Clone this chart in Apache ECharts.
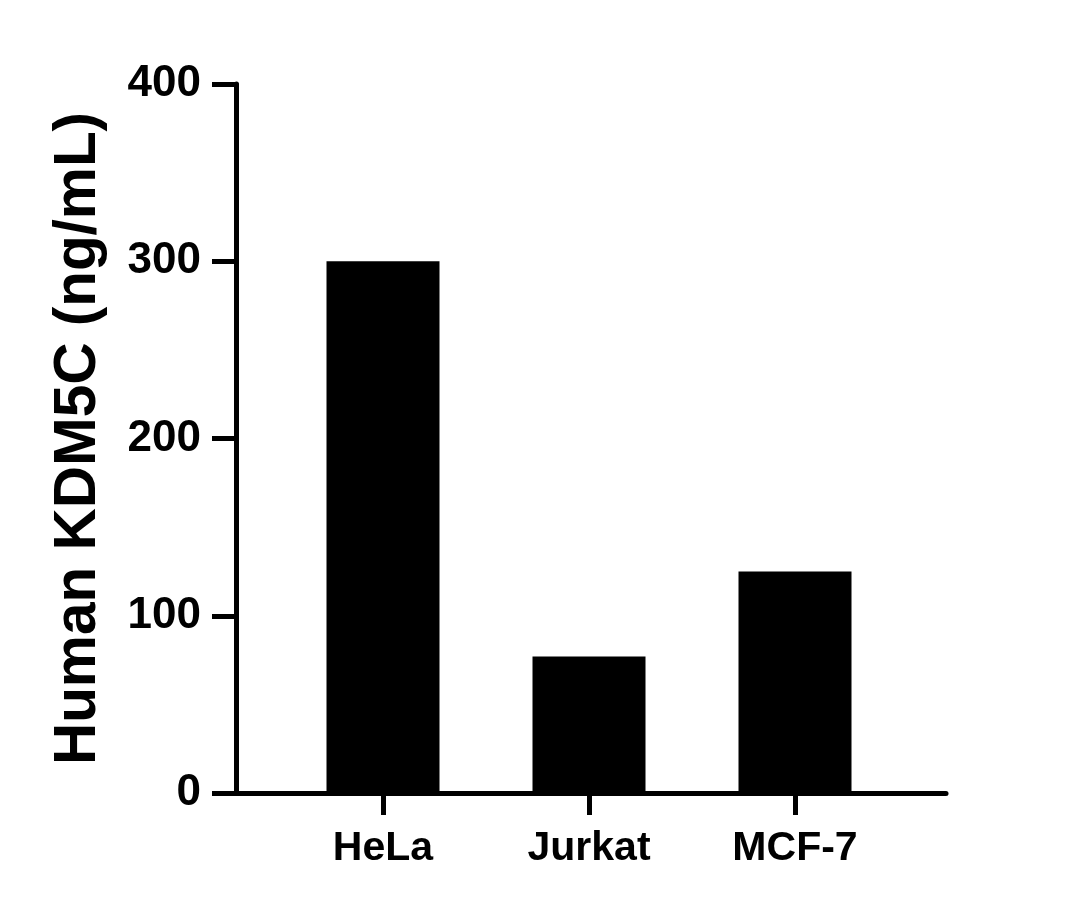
<!DOCTYPE html>
<html>
<head>
<meta charset="utf-8">
<script src="https://cdn.jsdelivr.net/npm/echarts@6/dist/echarts.min.js"></script>
<style>
html,body{margin:0;padding:0;background:#fff;}
#c{width:1077px;height:910px;}
</style>
</head>
<body>
<div id="c"></div>
<script>
const categories = ['HeLa', 'Jurkat', 'MCF-7'];
const values = [300, 77, 125];
const yTicks = [0, 100, 200, 300, 400];
const yTitle = 'Human KDM5C (ng/mL)';

const chart = echarts.init(document.getElementById('c'), null, {renderer: 'canvas'});
const font = '"Liberation Sans", Arial, Helvetica, sans-serif';
const idx = categories.map((c, i) => i);
chart.setOption({
  animation: false,
  backgroundColor: '#fff',
  grid: {left: 236, top: 84, right: 131, bottom: 117, containLabel: false},
  xAxis: {
    type: 'value',
    min: -0.7136,
    max: 2.733,
    axisLine: {show: true, onZero: false, lineStyle: {color: '#000', width: 5}},
    axisTick: {show: true, customValues: idx, length: 22, lineStyle: {color: '#000', width: 5}},
    axisLabel: {
      customValues: idx,
      formatter: v => categories[Math.round(v)] || '',
      color: '#000', fontFamily: font, fontWeight: 'bold', fontSize: 41, margin: 35
    },
    splitLine: {show: false}
  },
  yAxis: {
    type: 'value',
    min: yTicks[0],
    max: yTicks[yTicks.length - 1],
    interval: 100,
    name: yTitle,
    nameLocation: 'middle',
    nameGap: 128,
    nameTextStyle: {color: '#000', fontFamily: font, fontWeight: 'bold', fontSize: 58.5},
    axisLine: {show: true, onZero: false, lineStyle: {color: '#000', width: 5}},
    axisTick: {show: true, length: 24, lineStyle: {color: '#000', width: 5}},
    axisLabel: {color: '#000', fontFamily: font, fontWeight: 'bold', fontSize: 44, margin: 35},
    splitLine: {show: false}
  },
  series: [{
    type: 'bar',
    data: categories.map((c, i) => [i, values[i]]),
    barWidth: 113,
    itemStyle: {color: '#000'}
  }]
});
</script>
</body>
</html>
